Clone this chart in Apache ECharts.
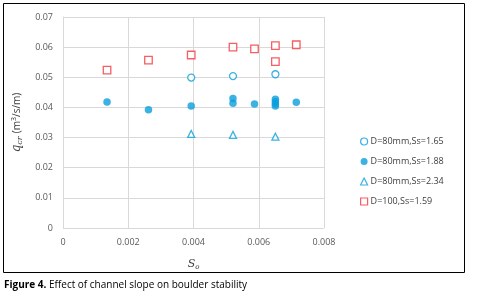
<!DOCTYPE html>
<html>
<head>
<meta charset="utf-8">
<script src="https://cdn.jsdelivr.net/npm/echarts@6/dist/echarts.min.js"></script>
<style>
html, body { margin: 0; padding: 0; background: #fff; }
#chart { width: 477px; height: 301px; }
</style>
</head>
<body>
<div id="chart"></div>
<script>
// series data: [So, qcr]
var ss165 = [[0.00393, 0.0499], [0.00521, 0.0504], [0.00651, 0.0510]];
var ss188 = [[0.00135, 0.0418], [0.00262, 0.0392], [0.00393, 0.0405],
             [0.00521, 0.0430], [0.00521, 0.0414], [0.00587, 0.0411],
             [0.00651, 0.0427], [0.00651, 0.0419], [0.00651, 0.0411],
             [0.00651, 0.0405], [0.00715, 0.0417]];
var ss234 = [[0.00393, 0.0312], [0.00521, 0.0309], [0.00651, 0.0303]];
var d100 = [[0.00135, 0.0524], [0.00262, 0.0557], [0.00393, 0.0574],
            [0.00521, 0.0600], [0.00587, 0.0594], [0.00651, 0.0605],
            [0.00651, 0.0552], [0.00715, 0.0608]];
var names = ['D=80mm,Ss=1.65', 'D=80mm,Ss=1.88', 'D=80mm,Ss=2.34', 'D=100,Ss=1.59'];

var blue = '#0b9fdc';
var red = '#f2363b';

var chart = echarts.init(document.getElementById('chart'));
var option = {
    animation: false,
    textStyle: { fontFamily: 'Open Sans' },
    grid: { left: 63, right: 153, top: 17, bottom: 73 },
    legend: {
        orient: 'vertical',
        left: 355,
        top: 132,
        itemWidth: 7,
        itemHeight: 7,
        itemGap: 11,
        itemStyle: { borderWidth: 1.2 },
        textStyle: { fontSize: 9, color: '#404040', padding: [0, 0, 0, -2] },
        data: names
    },
    xAxis: {
        type: 'value',
        min: 0, max: 0.008, interval: 0.002,
        name: '{s|S}{o|o}',
        nameLocation: 'middle',
        nameGap: 30,
        nameTextStyle: {
            rich: {
                s: { fontFamily: 'DejaVu Serif', fontStyle: 'italic', fontSize: 11, color: '#404040' },
                o: { fontFamily: 'DejaVu Serif', fontStyle: 'italic', fontSize: 7, color: '#404040', verticalAlign: 'bottom', padding: [6, 0, 0, 0] }
            }
        },
        axisLine: { show: false },
        axisTick: { show: false },
        axisLabel: { fontSize: 9, color: '#595959', margin: 10 },
        splitLine: { lineStyle: { color: '#d9d9d9' } }
    },
    yAxis: {
        type: 'value',
        min: 0, max: 0.07, interval: 0.01,
        name: '{q|q}{c|cr} {u|(m}{p|3}{u|/s/m)}',
        nameLocation: 'middle',
        nameGap: 38,
        nameTextStyle: {
            rich: {
                q: { fontFamily: 'DejaVu Serif', fontStyle: 'italic', fontSize: 12, color: '#404040' },
                c: { fontFamily: 'DejaVu Serif', fontStyle: 'italic', fontSize: 8, color: '#404040', verticalAlign: 'bottom', padding: [6, 0, 0, 0] },
                u: { fontSize: 10, color: '#404040' },
                p: { fontSize: 7, color: '#404040', verticalAlign: 'top', padding: [0, 0, 6, 0] }
            }
        },
        axisLine: { show: true, lineStyle: { color: '#d9d9d9' } },
        axisTick: { show: false },
        axisLabel: { fontSize: 9, color: '#595959', margin: 10 },
        splitLine: { lineStyle: { color: '#d9d9d9' } }
    },
    series: [
        {
            name: names[0], type: 'scatter', data: ss165,
            symbol: 'circle', symbolSize: 7,
            itemStyle: { color: '#fff', borderColor: blue, borderWidth: 1.3 }
        },
        {
            name: names[1], type: 'scatter', data: ss188,
            symbol: 'circle', symbolSize: 7.5,
            itemStyle: { color: blue }
        },
        {
            name: names[2], type: 'scatter', data: ss234,
            symbol: 'triangle', symbolSize: 7,
            itemStyle: { color: '#fff', borderColor: blue, borderWidth: 1.3 }
        },
        {
            name: names[3], type: 'scatter', data: d100,
            symbol: 'rect', symbolSize: 7.5,
            itemStyle: { color: '#fff', borderColor: red, borderWidth: 1.3 }
        }
    ],
    graphic: [
        {
            type: 'rect',
            shape: { x: 3.5, y: 3.5, width: 461, height: 269 },
            style: { fill: 'none', stroke: '#000', lineWidth: 1 },
            silent: true
        },
        {
            type: 'text',
            left: 4, top: 280,
            style: {
                text: '{b|Figure 4.} Effect of channel slope on boulder stability',
                fontSize: 10,
                fill: '#000',
                fontFamily: 'Open Sans',
                rich: { b: { fontWeight: 'bold', fontSize: 10, fontFamily: 'Open Sans' } }
            }
        }
    ]
};
chart.setOption(option);
</script>
</body>
</html>
